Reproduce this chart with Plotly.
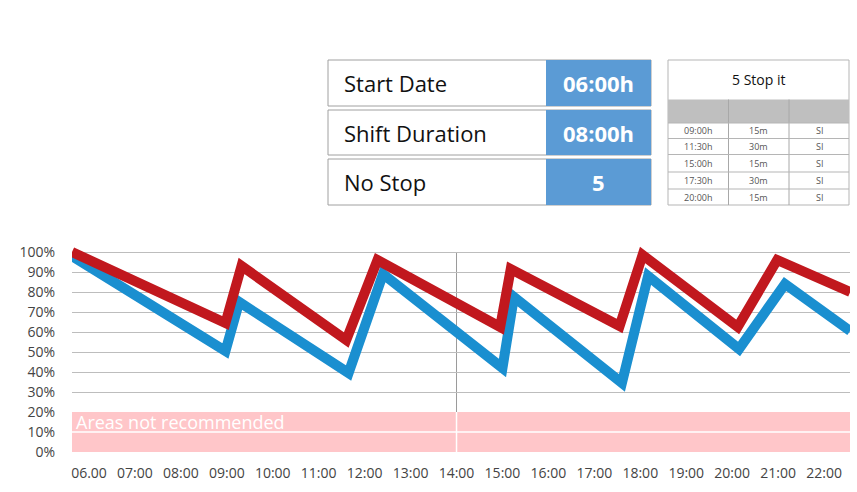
import plotly.graph_objects as go

# ---------------- data ----------------
hour_ticks = list(range(6, 23))
hour_labels = ["06.00"] + [f"{h:02d}:00" for h in range(7, 23)]

red_x = [5.63, 8.97, 9.32, 11.6, 12.28, 14.95, 15.18, 17.55, 18.05, 20.12, 20.98, 22.57]
red_y = [100, 64.5, 93, 56, 96, 62.5, 91.5, 63, 98.5, 62.5, 96, 80]

blue_x = [5.63, 8.97, 9.27, 11.65, 12.4, 15.0, 15.25, 17.6, 18.17, 20.15, 21.15, 22.57]
blue_y = [98, 50.5, 75, 39.5, 89, 42, 77.5, 34.5, 88, 51.5, 84, 60.5]

y_ticks = list(range(0, 101, 10))
y_labels = [f"{v}%" for v in y_ticks]

info_labels = ["Start Date", "Shift Duration", "No Stop"]
info_values = ["06:00h", "08:00h", "5"]

stop_title = "5 Stop it"
stop_times = ["09:00h", "11:30h", "15:00h", "17:30h", "20:00h"]
stop_durations = ["15m", "30m", "15m", "30m", "15m"]
stop_flags = ["SI", "SI", "SI", "SI", "SI"]

band_label = "Areas not recommended"

# ---------------- geometry ----------------
W, H = 857, 492
PL, PR, PT, PB = 72, 850, 246, 452
X0, X1 = 5.63, 22.565
Y0, Y1 = 0, 103


def fx(px):
    return (px - PL) / (PR - PL)


def fy(py):
    return (PB - py) / (PB - PT)


FONT = "Open Sans"
RED = "#c1181e"
BLUE = "#1a8fd0"
PINK = "#ffc6c9"
GRID = "#bdbdbd"
TBLUE = "#5b9bd5"

fig = go.Figure()
fig.add_trace(go.Scatter(x=blue_x, y=blue_y, mode="lines",
                         line=dict(color=BLUE, width=10), hoverinfo="skip"))
fig.add_trace(go.Scatter(x=red_x, y=red_y, mode="lines",
                         line=dict(color=RED, width=10), hoverinfo="skip"))

shapes = []
annos = []

# pink "not recommended" band with white separators
shapes.append(dict(type="rect", xref="x", yref="y", x0=X0, x1=X1, y0=0, y1=20,
                   fillcolor=PINK, line_width=0, layer="between"))
shapes.append(dict(type="line", xref="x", yref="y", x0=X0, x1=X1, y0=10, y1=10,
                   line=dict(color="white", width=1.5), layer="between"))
shapes.append(dict(type="line", xref="x", yref="y", x0=14, x1=14, y0=0, y1=20,
                   line=dict(color="white", width=1.5), layer="between"))
shapes.append(dict(type="line", xref="x", yref="y", x0=14, x1=14, y0=20, y1=100,
                   line=dict(color="#9a9a9a", width=1), layer="below"))
annos.append(dict(xref="x", yref="y", x=X0 + 0.05, y=14.8, text=band_label,
                  showarrow=False, xanchor="left", yanchor="middle",
                  font=dict(family=FONT, size=18, color="white")))

# ---------------- left info table ----------------
row_tops = [60, 110, 159]
row_bots = [106, 155, 205]
for lab, val, t, b in zip(info_labels, info_values, row_tops, row_bots):
    shapes.append(dict(type="rect", xref="paper", yref="paper",
                       x0=fx(328), x1=fx(651), y0=fy(b), y1=fy(t),
                       fillcolor="white", line=dict(color="#a0a0a0", width=1)))
    shapes.append(dict(type="rect", xref="paper", yref="paper",
                       x0=fx(546), x1=fx(651), y0=fy(b), y1=fy(t),
                       fillcolor=TBLUE, line_width=0))
    annos.append(dict(xref="paper", yref="paper", x=fx(342), y=fy((t + b) / 2),
                      text=lab, showarrow=False, xanchor="left", yanchor="middle",
                      font=dict(family=FONT, size=22, color="#111")))
    annos.append(dict(xref="paper", yref="paper", x=fx(598.5), y=fy((t + b) / 2),
                      text=f"<b>{val}</b>", showarrow=False, xanchor="center",
                      yanchor="middle", font=dict(family=FONT, size=22, color="white")))

# ---------------- right stop table ----------------
TL, TR, TT, TB = 668, 849, 60, 205
cols = [668, 728.5, 789, 849]
shapes.append(dict(type="rect", xref="paper", yref="paper",
                   x0=fx(TL), x1=fx(TR), y0=fy(TB), y1=fy(TT),
                   fillcolor="white", line=dict(color="#b5b5b5", width=1)))
shapes.append(dict(type="rect", xref="paper", yref="paper",
                   x0=fx(TL), x1=fx(TR), y0=fy(123), y1=fy(99.5),
                   fillcolor="#bfbfbf", line_width=0))
for c in cols[1:3]:
    shapes.append(dict(type="line", xref="paper", yref="paper",
                       x0=fx(c), x1=fx(c), y0=fy(TB), y1=fy(99.5),
                       line=dict(color="#a8a8a8", width=1)))
row_edges = [123, 138.5, 154.5, 172, 189, 205]
for e in row_edges[:-1]:
    shapes.append(dict(type="line", xref="paper", yref="paper",
                       x0=fx(TL), x1=fx(TR), y0=fy(e), y1=fy(e),
                       line=dict(color="#b5b5b5", width=1)))
annos.append(dict(xref="paper", yref="paper", x=fx((TL + TR) / 2), y=fy(79.5),
                  text=stop_title, showarrow=False, xanchor="center", yanchor="middle",
                  font=dict(family=FONT, size=14, color="#111")))
for i, (t, d, f) in enumerate(zip(stop_times, stop_durations, stop_flags)):
    yc = (row_edges[i] + row_edges[i + 1]) / 2
    for txt, c0, c1 in zip((t, d, f), cols[:-1], cols[1:]):
        annos.append(dict(xref="paper", yref="paper", x=fx((c0 + c1) / 2), y=fy(yc),
                          text=txt, showarrow=False, xanchor="center", yanchor="middle",
                          font=dict(family=FONT, size=9, color="#555")))

fig.update_layout(
    width=W, height=H,
    margin=dict(l=PL, r=W - PR, t=PT, b=H - PB, pad=0),
    paper_bgcolor="white", plot_bgcolor="white",
    showlegend=False,
    shapes=shapes, annotations=annos,
    xaxis=dict(range=[X0, X1], tickvals=hour_ticks, ticktext=hour_labels,
               showgrid=False, zeroline=False, showline=False, ticks="",
               ticklabelstandoff=11,
               tickfont=dict(family=FONT, size=14, color="#444")),
    yaxis=dict(range=[Y0, Y1], tickvals=y_ticks, ticktext=y_labels,
               showgrid=True, gridcolor=GRID, gridwidth=1, zeroline=False,
               showline=False, ticks="", ticklabelstandoff=16,
               tickfont=dict(family=FONT, size=14, color="#444")),
)

post = ("document.querySelectorAll('.scatterlayer path.js-line').forEach("
        "function(p){p.style.strokeLinejoin='miter';p.style.strokeMiterlimit='10';});")
fig.write_html("out.html", post_script=post)
